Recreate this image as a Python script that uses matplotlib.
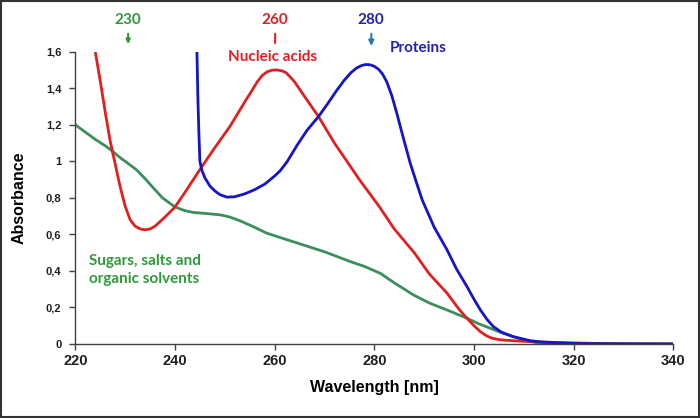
import matplotlib
matplotlib.use("Agg")
import matplotlib.pyplot as plt
from matplotlib.patches import Rectangle

# ---- data ----
nucleic_nm = [224, 225, 226, 227, 228, 229, 230, 231, 232, 233, 234, 235, 236, 237, 238, 240,
              242, 245, 248, 251, 254, 255.5, 256.5, 257.5, 258.5, 259.5, 260.5, 261.5, 262.3,
              263, 264, 266, 268.8, 272, 277, 281, 284, 288, 291, 294.6, 297, 298.6, 300,
              301.3, 302.5, 303.5, 305, 306.6, 309, 311.3, 315, 320, 325, 330, 340]
nucleic_abs = [1.6, 1.44, 1.27, 1.11, 0.985, 0.86, 0.755, 0.68, 0.645, 0.63, 0.625, 0.63, 0.645,
               0.67, 0.695, 0.75, 0.83, 0.955, 1.075, 1.19, 1.325, 1.39, 1.435, 1.47, 1.49,
               1.499, 1.5, 1.495, 1.485, 1.465, 1.435, 1.355, 1.245, 1.1, 0.9, 0.752, 0.63,
               0.5, 0.385, 0.278, 0.19, 0.141, 0.1, 0.067, 0.045, 0.033, 0.024, 0.02, 0.016,
               0.013, 0.01, 0.006, 0.003, 0.001, 0.0]

protein_nm = [244.4, 244.6, 244.8, 245.0, 245.4, 246.0, 247.0, 248.0, 249.0, 250.4, 252, 254,
              256, 258, 260, 261.1, 262.5, 264.5, 266.5, 268.8, 270.5, 272.5, 274, 275.3,
              276.5, 277.5, 278.3, 279.2, 280.0, 280.8, 281.6, 282.5, 283.5, 284.5, 285.8,
              287.2, 288.5, 289.6, 292, 294.6, 296.5, 298.6, 300, 301.3, 302.6, 303.9, 305.5,
              307.9, 309.5, 311.3, 314, 318, 322, 330, 340]
protein_abs = [1.6, 1.34, 1.15, 1.0, 0.95, 0.91, 0.865, 0.838, 0.818, 0.804, 0.806, 0.822,
               0.845, 0.875, 0.92, 0.948, 0.998, 1.088, 1.17, 1.245, 1.31, 1.39, 1.445, 1.485,
               1.512, 1.525, 1.53, 1.528, 1.52, 1.505, 1.48, 1.435, 1.36, 1.264, 1.13, 0.99,
               0.88, 0.789, 0.64, 0.515, 0.41, 0.314, 0.245, 0.186, 0.135, 0.095, 0.065, 0.04,
               0.03, 0.018, 0.01, 0.005, 0.002, 0.001, 0.0]

sugar_nm = [220, 222, 224, 226, 227.3, 229, 230.5, 232.3, 234, 235.7, 237.5, 240, 242, 243.7,
            246, 249.1, 251, 253, 255.5, 258.4, 262, 266, 270, 275.2, 278, 281.2, 284,
            287.9, 291, 294.6, 298.6, 301, 303.3, 305.5, 307.9, 310, 312.6, 316, 320, 330, 340]
sugar_abs = [1.2, 1.16, 1.12, 1.085, 1.059, 1.02, 0.99, 0.953, 0.905, 0.853, 0.8, 0.75,
             0.73, 0.72, 0.715, 0.707, 0.695, 0.675, 0.645, 0.607, 0.575, 0.54, 0.505,
             0.451, 0.425, 0.387, 0.335, 0.268, 0.225, 0.186, 0.141, 0.11, 0.086, 0.062,
             0.04, 0.022, 0.007, 0.003, 0.001, 0.0, 0.0]

x_ticks = [220, 240, 260, 280, 300, 320, 340]
y_ticks = [0, 0.2, 0.4, 0.6, 0.8, 1.0, 1.2, 1.4, 1.6]
y_tick_labels = ["0", "0,2", "0,4", "0,6", "0,8", "1", "1,2", "1,4", "1,6"]

RED = "#e02020"
BLUE = "#1414c8"
GREEN = "#3a8f5c"
TXT_GREEN = "#2e9a3a"
TXT_BLUE = "#2222b4"
ARROW_BLUE = "#2e75b6"
LABEL_FONT = ["Lato", "DejaVu Sans"]
AX_FONT = ["Liberation Sans", "DejaVu Sans"]

fig = plt.figure(figsize=(7.0, 4.18), dpi=100)
ax = fig.add_axes([0.1076, 0.177, 0.8543, 0.6993])

ax.plot(sugar_nm, sugar_abs, color=GREEN, lw=2.0, solid_capstyle="round", solid_joinstyle="round")
ax.plot(nucleic_nm, nucleic_abs, color=RED, lw=2.0, solid_capstyle="round", solid_joinstyle="round")
ax.plot(protein_nm, protein_abs, color=BLUE, lw=2.0, solid_capstyle="round", solid_joinstyle="round")

ax.set_xlim(220, 340)
ax.set_ylim(0, 1.6)
ax.set_xticks(x_ticks)
ax.set_xticklabels([str(t) for t in x_ticks], fontfamily=AX_FONT, fontweight="bold", fontsize=10.5)
ax.set_yticks(y_ticks)
ax.set_yticklabels(y_tick_labels, fontfamily=AX_FONT, fontweight="bold", fontsize=8)
for s in ["top", "right"]:
    ax.spines[s].set_visible(False)
for s in ["left", "bottom"]:
    ax.spines[s].set_color("#404040")
    ax.spines[s].set_linewidth(1.0)
ax.tick_params(axis="both", direction="out", length=4, width=1, color="#404040", colors="#202020")
ax.tick_params(axis="y", pad=6)
ax.tick_params(axis="x", pad=3)

ax.set_xlabel("Wavelength [nm]", fontfamily=AX_FONT, fontweight="bold", fontsize=11.5, labelpad=9)
ax.set_ylabel("Absorbance", fontfamily=AX_FONT, fontweight="bold", fontsize=11.5, labelpad=14)

trans = ax.get_xaxis_transform()
# peak labels
ax.text(230.6, 1.108, "230", transform=trans, color=TXT_GREEN, fontfamily=LABEL_FONT,
        fontweight="bold", fontsize=11, ha="center", va="center")
ax.annotate("", xy=(230.6, 1.016), xytext=(230.6, 1.071), xycoords=trans, textcoords=trans,
            arrowprops=dict(arrowstyle="-|>,head_length=0.25,head_width=0.12", color=TXT_GREEN, lw=1.5))
ax.text(260.1, 1.108, "260", transform=trans, color=RED, fontfamily=LABEL_FONT,
        fontweight="bold", fontsize=11, ha="center", va="center")
ax.annotate("", xy=(260.1, 1.02), xytext=(260.1, 1.071), xycoords=trans, textcoords=trans,
            arrowprops=dict(arrowstyle="-", color=RED, lw=1.5))
ax.text(279.2, 1.108, "280", transform=trans, color=TXT_BLUE, fontfamily=LABEL_FONT,
        fontweight="bold", fontsize=11, ha="center", va="center")
ax.annotate("", xy=(279.4, 1.01), xytext=(279.4, 1.071), xycoords=trans, textcoords=trans,
            arrowprops=dict(arrowstyle="-|>,head_length=0.3,head_width=0.15", color=ARROW_BLUE, lw=1.5))

ax.text(259.5, 0.982, "Nucleic acids", transform=trans, color=RED, fontfamily=LABEL_FONT,
        fontweight="bold", fontsize=11, ha="center", va="center")
ax.text(283.0, 1.013, "Proteins", transform=trans, color=TXT_BLUE, fontfamily=LABEL_FONT,
        fontweight="bold", fontsize=11, ha="left", va="center")
ax.text(222.8, 0.405, "Sugars, salts and\norganic solvents", color=TXT_GREEN, fontfamily=LABEL_FONT,
        fontweight="bold", fontsize=11, ha="left", va="center", linespacing=1.45)

fig.patches.append(Rectangle((0.002, 0.003), 0.996, 0.994, transform=fig.transFigure,
                             fill=False, edgecolor="#333333", lw=1.5))

fig.savefig("out.png", dpi=100)
